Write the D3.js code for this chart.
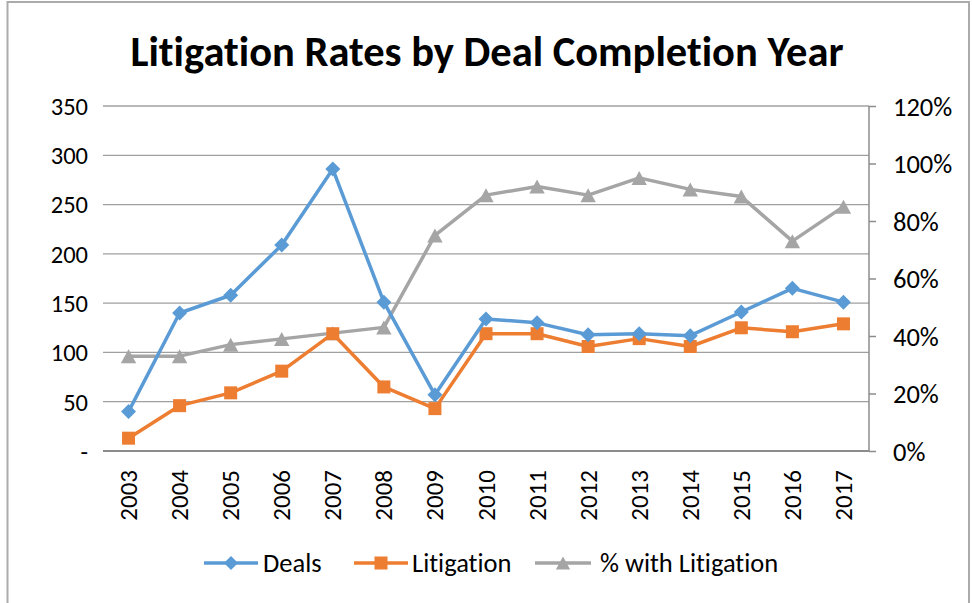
<!DOCTYPE html>
<html>
<head>
<meta charset="utf-8">
<script src="https://cdn.jsdelivr.net/npm/d3@7"></script>
<style>
  html, body { margin: 0; padding: 0; background: #fff; }
  svg text { font-family: Carlito, Calibri, Lato, sans-serif; fill: #000; font-variant-ligatures: none; }
</style>
</head>
<body>
<svg id="chart" width="972" height="603"></svg>
<script>
// Chart data
const years = ["2003","2004","2005","2006","2007","2008","2009","2010","2011","2012","2013","2014","2015","2016","2017"];
const deals = [40, 140, 158, 209, 286, 151, 57, 134, 130, 118, 119, 117, 141, 165, 151];
const litigation = [13, 46, 59, 81, 119, 65, 43, 119, 119, 106, 114, 106, 125, 121, 129];
const pctWithLitigation = [0.33, 0.33, 0.37, 0.39, 0.41, 0.43, 0.75, 0.89, 0.92, 0.89, 0.95, 0.91, 0.885, 0.73, 0.85];
const leftTicks = [0, 50, 100, 150, 200, 250, 300, 350];
const rightTicks = [0, 0.2, 0.4, 0.6, 0.8, 1.0, 1.2];
const seriesNames = ["Deals", "Litigation", "% with Litigation"];

const colors = { deals: "#5b9bd5", litigation: "#ed7d31", pct: "#a5a5a5" };

const svg = d3.select("#chart");
const plot = { left: 103, right: 869, top: 106, bottom: 451 };

// outer frame
svg.append("rect")
  .attr("x", 7.5).attr("y", 2).attr("width", 961.5).attr("height", 610)
  .attr("fill", "none").attr("stroke", "#ababab").attr("stroke-width", 2);

// title
svg.append("text")
  .attr("x", 487).attr("y", 66)
  .attr("text-anchor", "middle")
  .style("font-size", "42.5px").style("font-weight", "bold")
  .text("Litigation Rates by Deal Completion Year");

const x = d3.scaleBand().domain(years).range([plot.left, plot.right]);
const yL = d3.scaleLinear().domain([0, 350]).range([plot.bottom, plot.top]);
const yR = d3.scaleLinear().domain([0, 1.2]).range([plot.bottom, plot.top]);

// gridlines
svg.append("g")
  .selectAll("line")
  .data(leftTicks.filter(d => d > 0))
  .join("line")
  .attr("x1", plot.left).attr("x2", plot.right)
  .attr("y1", d => yL(d)).attr("y2", d => yL(d))
  .attr("stroke", "#a0a0a0").attr("stroke-width", 1.3);

// left axis (labels only)
const leftAxis = d3.axisLeft(yL).tickValues(leftTicks)
  .tickFormat(d => d === 0 ? "-" : d3.format("d")(d))
  .tickSize(0).tickPadding(0);
const gL = svg.append("g").attr("transform", `translate(${plot.left - 15},0)`).call(leftAxis);
gL.select(".domain").remove();
gL.selectAll("text").style("font-size", "24.5px").attr("dy", "0.34em").attr("fill", "#000");

// right axis
const rightAxis = d3.axisRight(yR).tickValues(rightTicks)
  .tickFormat(d3.format(".0%")).tickSize(7).tickPadding(17);
const gR = svg.append("g").attr("transform", `translate(${plot.right},0)`).call(rightAxis);
gR.select(".domain").attr("stroke", "#8c8c8c").attr("stroke-width", 1.5).attr("d", `M0,${plot.top}V${plot.bottom}`);
gR.selectAll(".tick line").attr("stroke", "#8c8c8c").attr("stroke-width", 1.5);
gR.selectAll("text").style("font-size", "26.5px").attr("dy", "0.34em").attr("fill", "#000");

// bottom axis
const bottomAxis = d3.axisBottom(x).tickSize(0).tickPadding(0);
const gB = svg.append("g").attr("transform", `translate(0,${plot.bottom})`).call(bottomAxis);
gB.select(".domain").attr("stroke", "#8c8c8c").attr("stroke-width", 2).attr("d", `M${plot.left},0H${plot.right}`);
gB.selectAll("text")
  .style("font-size", "25px")
  .attr("text-anchor", "end")
  .attr("transform", "translate(0,19) rotate(-90)")
  .attr("x", 0).attr("y", 0).attr("dy", "0.34em");

const cx = d => x(d) + x.bandwidth() / 2;

// marker shapes
const diamond = s => `M0,${-s}L${s},0L0,${s}L${-s},0Z`;
const square = s => `M${-s},${-s}H${s}V${s}H${-s}Z`;
const triangle = s => `M0,${-s}L${s * 1.1},${s}L${-s * 1.1},${s}Z`;

function drawSeries(values, yScale, color, markerPath) {
  const pts = years.map((yr, i) => [cx(yr), yScale(values[i])]);
  svg.append("path")
    .attr("d", d3.line()(pts))
    .attr("fill", "none").attr("stroke", color)
    .attr("stroke-width", 3.5).attr("stroke-linejoin", "round");
  svg.append("g").selectAll("path")
    .data(pts).join("path")
    .attr("transform", d => `translate(${d[0]},${d[1]})`)
    .attr("d", markerPath)
    .attr("fill", color);
}

drawSeries(pctWithLitigation, yR, colors.pct, triangle(7));
drawSeries(litigation, yL, colors.litigation, square(6.5));
drawSeries(deals, yL, colors.deals, diamond(7.5));

// legend
const legendItems = [
  { name: seriesNames[0], color: colors.deals, marker: diamond(7), x1: 204, x2: 258, tx: 263 },
  { name: seriesNames[1], color: colors.litigation, marker: square(6.5), x1: 354, x2: 408, tx: 412 },
  { name: seriesNames[2], color: colors.pct, marker: triangle(6.5), x1: 535, x2: 591, tx: 600 }
];
const ly = 563;
const lg = svg.append("g").selectAll("g").data(legendItems).join("g");
lg.append("line")
  .attr("x1", d => d.x1).attr("x2", d => d.x2)
  .attr("y1", ly).attr("y2", ly)
  .attr("stroke", d => d.color).attr("stroke-width", 3.5);
lg.append("path")
  .attr("transform", d => `translate(${(d.x1 + d.x2) / 2},${ly})`)
  .attr("d", d => d.marker).attr("fill", d => d.color);
lg.append("text")
  .attr("x", d => d.tx).attr("y", ly).attr("dy", "0.34em")
  .style("font-size", "26.5px")
  .text(d => d.name);
</script>
</body>
</html>
